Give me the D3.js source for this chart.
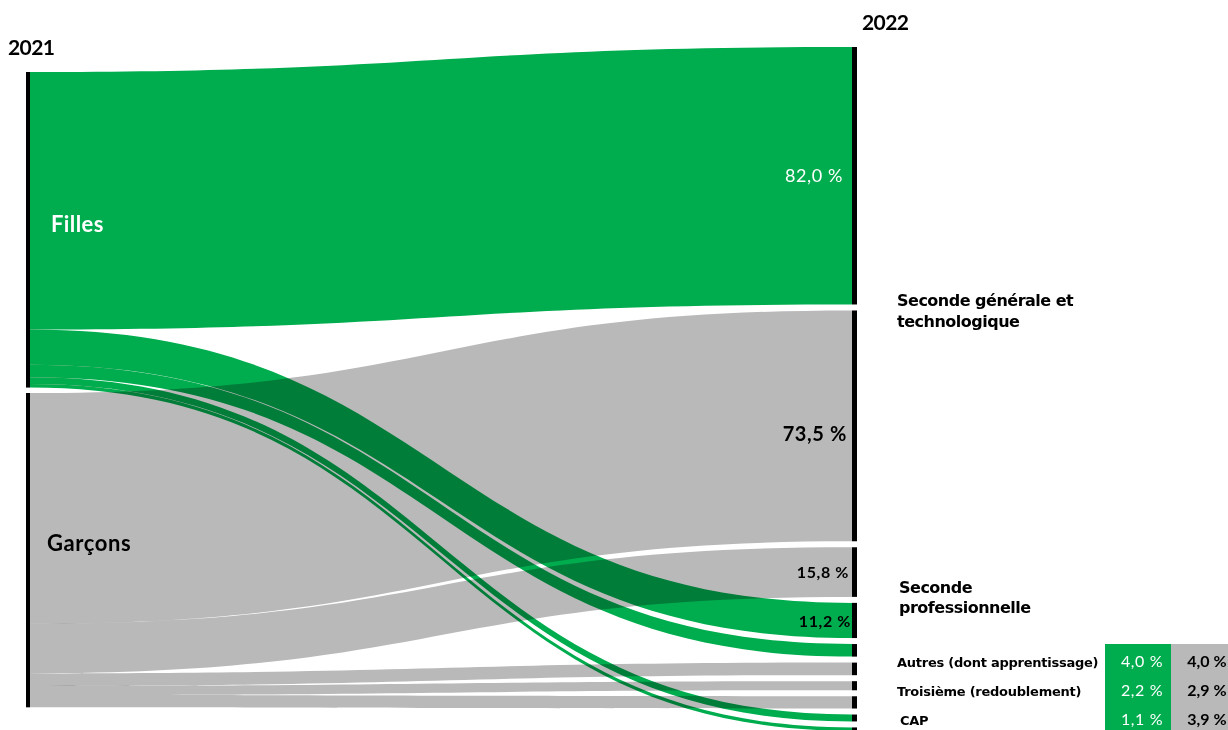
<!DOCTYPE html>
<html>
<head>
<meta charset="utf-8">
<script src="https://cdn.jsdelivr.net/npm/d3@7"></script>
<style>
  body { margin: 0; background: #fff; }
  svg { display: block; }
</style>
</head>
<body>
<div id="chart"></div>
<script>
// data (percentages of each group, 2021 -> 2022)
const years = ["2021", "2022"];
const sources = ["Filles", "Garçons"];
const targets = ["Seconde générale et technologique", "Seconde professionnelle",
                 "Autres (dont apprentissage)", "Troisième (redoublement)", "CAP"];
const fillesValues = [82.0, 11.2, 4.0, 2.2, 1.1];
const garconsValues = [73.5, 15.8, 4.0, 2.9, 3.9];
// stacking order of the 2022 segments: [source, target]
const rightOrder = [[0, 0], [1, 0], [1, 1], [0, 1], [0, 2], [1, 2], [1, 3], [1, 4], [0, 3], [0, 4]];

const W = 1228, H = 730;
const green = "#00ad4e", grey = "#b9b9b9";
const colors = [green, grey];
const values = [fillesValues, garconsValues];

let svg = d3.select("#chart").append("svg").attr("width", W).attr("height", H);

// px per percentage point
const y = d3.scaleLinear().domain([0, 100]).range([0, 314]);

const xLeft = 30, xRight = 852;
const leftTop = [72, 393];
const rightTop = 47, rightGap = 6;

// build links with their left and right positions
let links = [];
sources.forEach((s, i) => {
    let cum = 0;
    values[i].forEach((v, j) => {
        links.push({ source: i, target: j, value: v, s0: leftTop[i] + y(cum), s1: leftTop[i] + y(cum + v) });
        cum += v;
    });
});
let yr = rightTop;
rightOrder.forEach(([i, j]) => {
    const l = links.find((d) => d.source === i && d.target === j);
    l.t0 = yr;
    l.t1 = yr + y(l.value);
    yr = l.t1 + rightGap;
});

function band(d) {
    const xm = (xLeft + xRight) / 2;
    const p = d3.path();
    p.moveTo(xLeft, d.s0);
    p.bezierCurveTo(xm, d.s0, xm, d.t0, xRight, d.t0);
    p.lineTo(xRight, d.t1);
    p.bezierCurveTo(xm, d.t1, xm, d.s1, xLeft, d.s1);
    p.closePath();
    return p.toString();
}

let flows = svg.append("g").style("isolation", "isolate");
flows.selectAll("path")
    .data(links.slice().sort((a, b) => b.source - a.source))
    .enter()
    .append("path")
    .attr("d", band)
    .attr("fill", (d) => colors[d.source])
    .style("mix-blend-mode", "multiply");

// node bars
svg.selectAll(".leftbar")
    .data(sources)
    .enter()
    .append("rect")
    .attr("x", xLeft - 4)
    .attr("width", 4)
    .attr("y", (d, i) => leftTop[i])
    .attr("height", (d, i) => y(d3.sum(values[i])))
    .attr("fill", "#000");

svg.selectAll(".rightbar")
    .data(links)
    .enter()
    .append("rect")
    .attr("x", xRight)
    .attr("width", 5)
    .attr("y", (d) => d.t0)
    .attr("height", (d) => d.t1 - d.t0)
    .attr("fill", "#000");

const fmt = (v) => v.toFixed(1).replace(".", ",") + " %";

// year titles
svg.append("text").attr("x", 8).attr("y", 55).text(years[0])
    .attr("font-family", "Lato").attr("font-weight", "bold").attr("font-size", 21)
    .attr("letter-spacing", -0.6);
svg.append("text").attr("x", 862).attr("y", 30).text(years[1])
    .attr("font-family", "Lato").attr("font-weight", "bold").attr("font-size", 21)
    .attr("letter-spacing", -0.6);

// source labels
svg.append("text").attr("x", 51).attr("y", leftTop[0] + 160).text(sources[0])
    .attr("fill", "#fff").attr("font-family", "Lato").attr("font-weight", "bold").attr("font-size", 22)
    .attr("letter-spacing", 0.4);
svg.append("text").attr("x", 47).attr("y", leftTop[1] + 158).text(sources[1])
    .attr("fill", "#000").attr("font-family", "Lato").attr("font-weight", "bold").attr("font-size", 22)
    .attr("letter-spacing", 0.6);

// percentage labels on the main segments
const segLabels = [
    { s: 0, t: 0, color: "#fff", size: 18, weight: "normal", dx: 843, dy: 2 },
    { s: 1, t: 0, color: "#000", size: 20, weight: "bold", dx: 847, dy: 10 },
    { s: 1, t: 1, color: "#000", size: 16, weight: "bold", dx: 849, dy: 2 },
    { s: 0, t: 1, color: "#000", size: 16, weight: "bold", dx: 851, dy: 2 },
];
segLabels.forEach((o) => {
    const l = links.find((d) => d.source === o.s && d.target === o.t);
    svg.append("text")
        .attr("x", o.dx)
        .attr("y", (l.t0 + l.t1) / 2 + o.dy)
        .attr("dominant-baseline", "middle")
        .attr("text-anchor", "end")
        .attr("fill", o.color)
        .attr("font-family", "Lato")
        .attr("font-weight", o.weight)
        .attr("font-size", o.size)
        .attr("letter-spacing", 0.6)
        .text(fmt(l.value));
});

// target labels (two lines)
const lab = svg.append("g").attr("font-family", "DejaVu Sans").attr("font-weight", "bold")
    .attr("font-size", 16).attr("letter-spacing", -0.5);
lab.append("text").attr("x", 897).attr("y", 306).text("Seconde générale et");
lab.append("text").attr("x", 897).attr("y", 327).text("technologique");
lab.append("text").attr("x", 899).attr("y", 593).text("Seconde");
lab.append("text").attr("x", 899).attr("y", 613).text("professionnelle");

// small table for the three minor destinations
const rowY = [663, 692, 721];
svg.append("rect").attr("x", 1105).attr("y", 644).attr("width", 66).attr("height", 86).attr("fill", green);
svg.append("rect").attr("x", 1171).attr("y", 644).attr("width", 57).attr("height", 86).attr("fill", grey);
targets.slice(2).forEach((t, k) => {
    svg.append("text")
        .attr("x", k === 2 ? 900 : 897)
        .attr("y", rowY[k])
        .attr("dominant-baseline", "middle")
        .attr("font-family", "DejaVu Sans").attr("font-weight", "bold")
        .attr("font-size", 13).attr("letter-spacing", -0.25)
        .text(t);
    svg.append("text")
        .attr("x", 1142)
        .attr("y", rowY[k])
        .attr("dominant-baseline", "middle")
        .attr("text-anchor", "middle")
        .attr("fill", "#fff")
        .attr("font-family", "Lato").attr("font-size", 16).attr("letter-spacing", 0.6)
        .text(fmt(fillesValues[k + 2]));
    svg.append("text")
        .attr("x", 1207)
        .attr("y", rowY[k])
        .attr("dominant-baseline", "middle")
        .attr("text-anchor", "middle")
        .attr("font-family", "Lato").attr("font-weight", "bold").attr("font-size", 16)
        .text(fmt(garconsValues[k + 2]));
});
</script>
</body>
</html>
